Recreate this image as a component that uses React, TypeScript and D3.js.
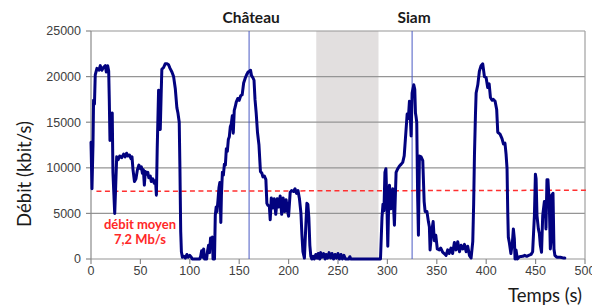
import React from 'react';
import * as d3 from 'd3';

// Débit mesuré (kbit/s) en fonction du temps (s)
const temps = [
  0, 1, 2, 2.6, 3.5, 4.3, 6, 8, 9.4, 11, 12.5, 14.5, 15.5, 16.9, 17.9, 18.5, 19.2, 20.3, 21.5, 22.2, 23, 24, 25, 26,
  27.5, 29, 31, 33, 34.5, 36, 37.5, 39, 40.5, 41.5, 42.5, 44, 45.5, 47, 48.5, 50, 51, 52, 53, 54, 55, 56.5, 57.5, 58.5,
  60, 61, 62.5, 64, 65.3, 66.2, 67, 68.4, 69.3, 70.1, 71, 71.7, 73.5, 75.1, 77, 78.5, 80, 81.9, 83.6, 85.3, 86.9, 88,
  89.3, 90, 90.8, 91.5, 92.5, 94, 95.5, 97, 98.5, 100, 101.5, 102.5, 104, 110, 111, 112, 113, 114, 115, 117, 118, 119,
  120, 121, 122, 123, 123.5, 125, 125.8, 126.7, 127.5, 128.5, 129.5, 130.4, 131.4, 132, 133, 134, 135, 136, 137, 138,
  139, 140, 141, 142, 143, 144, 145, 146, 147, 148.5, 150, 151.5, 153, 154.5, 156, 157.5, 159, 160.4, 161.5, 162.5,
  163.8, 165, 166, 167.2, 168.5, 170, 171.5, 173, 174, 175.5, 177, 178, 179, 180.5, 181.4, 182.5, 184, 185.5, 187,
  188.5, 190, 191.5, 193, 194.5, 196, 197.5, 199, 200, 201.6, 203, 205, 206.5, 208, 209.5, 211, 212.5, 213.5, 214.5,
  216, 217.5, 218.5, 219.5, 220.5, 221.5, 222.5, 223.5, 225, 226, 227.5, 229, 230, 231.5, 232.5, 234, 235.5, 237, 238,
  239.5, 241, 242.5, 244, 245.5, 247, 248.5, 250, 251.5, 253, 254.5, 256, 257.5, 261, 262, 263, 293, 294.5, 295.5,
  296.5, 297.5, 298.5, 299.5, 300.4, 301.2, 302.1, 303.5, 305.4, 307.1, 308.8, 310.5, 312.2, 314, 315.5, 317, 318.9,
  320, 321.2, 322.3, 323.2, 324, 325, 326.7, 327.7, 328.4, 329, 329.7, 330.6, 331.4, 332.4, 334.1, 335.8, 337.2, 338.2,
  340, 341.5, 342.5, 343.2, 344.8, 346.3, 347.5, 349, 350.5, 352.5, 354, 355.9, 357.5, 359.4, 361, 362.5, 364.4, 366,
  367.8, 369.5, 371.2, 373, 374.6, 376.3, 378, 379.7, 381.3, 383, 384.7, 386.4, 387.3, 388.1, 389.1, 389.8, 391.5,
  393.1, 394.8, 396.5, 398.2, 399.9, 401.5, 403, 404.3, 406, 407.3, 409, 410.6, 411.7, 414, 416, 417.5, 419, 420.1,
  421.1, 421.8, 422.4, 423.4, 425, 426.5, 427.5, 428.5, 429.2, 430.2, 431.5, 433.6, 437, 439, 441, 443, 445.4, 447,
  448.8, 449.8, 450.5, 451.4, 452.8, 453.8, 454.8, 456, 457.2, 458.9, 459.8, 460.5, 461.5, 462.5, 463.9, 464.9, 466,
  466.3, 467.6, 468.6, 469.5, 471.4, 475, 478.6, 479.6,
];

const debit = [
  12800, 7700, 12500, 17400, 17000, 20200, 20900, 20700, 21200, 20700, 21000, 21200, 20500, 21200, 20600, 17500, 13000,
  14500, 16000, 9500, 7500, 5000, 8000, 11200, 10900, 11300, 11100, 11500, 11200, 11600, 11300, 11400, 11000, 11200,
  9800, 8500, 8800, 9800, 10300, 9900, 10100, 9400, 9800, 8100, 9600, 9300, 9500, 8900, 9100, 8500, 8800, 8300, 8600,
  7000, 12000, 18500, 17800, 14200, 18000, 20800, 21000, 21400, 21400, 21300, 20900, 20500, 20000, 18700, 16600, 16000,
  15000, 10000, 3000, 800, 200, 300, 100, 500, 200, 400, 200, 0, 0, 0, 300, 900, 200, 1100, 0, 0, 900, 1500, 700, 2300,
  1800, 2400, 0, 0, 4800, 5700, 5200, 6400, 7800, 8400, 4000, 7000, 9500, 9200, 10400, 10300, 12100, 11800, 13100,
  13400, 14500, 14800, 15700, 13800, 16300, 16700, 17200, 17600, 17400, 17900, 18000, 19300, 19800, 20200, 20500,
  20600, 20700, 20100, 19900, 19600, 17500, 16000, 13900, 12500, 9600, 9400, 9000, 9100, 8700, 6100, 5900, 5800, 4300,
  6700, 5600, 6600, 4900, 6600, 5700, 6900, 4900, 6700, 5200, 6500, 5200, 4700, 7300, 7500, 7400, 7700, 7200, 7500,
  6600, 5000, 2600, 800, 100, 3800, 6100, 6000, 4500, 1500, 300, 0, 300, 0, 500, 100, 600, 0, 700, 200, 600, 0, 500,
  100, 700, 100, 600, 0, 500, 100, 600, 0, 500, 0, 400, 0, 0, 250, 0, 0, 4500, 6000, 5300, 9500, 9900, 6000, 1400, 5500,
  8100, 5500, 7700, 3700, 9500, 9900, 10200, 10400, 10600, 11300, 14200, 15900, 15400, 17300, 15700, 13500, 18200,
  19100, 18600, 16000, 15600, 15000, 6900, 2600, 11300, 11200, 10800, 6300, 5200, 5200, 4100, 3500, 1000, 3000, 4100,
  2000, 2600, 1100, 1000, 1200, 750, 600, 400, 1000, 600, 1200, 600, 1800, 1000, 1900, 800, 1500, 1100, 1600, 800,
  1400, 400, 100, 1900, 6000, 11300, 15700, 18200, 19100, 20600, 21200, 21400, 20000, 19900, 18800, 19200, 17700,
  17400, 17500, 17300, 16400, 13900, 13700, 13200, 12600, 12700, 11500, 9900, 5200, 2400, 1800, 600, 1800, 3300, 2200,
  0, 1000, 0, 250, 300, 400, 300, 400, 500, 800, 4750, 9300, 8800, 4750, 3300, 2800, 1500, 750, 4750, 6300, 6300, 3300,
  8700, 8700, 5900, 1100, 2500, 7000, 7200, 1100, 400, 200, 200, 100, 100,
];

const yTicks = [0, 5000, 10000, 15000, 20000, 25000];
const xTicks = [0, 50, 100, 150, 200, 250, 300, 350, 400, 450, 500];

const lieux = ['Château', 'Siam'];
const lieuxTemps = [160, 325];

const zoneGrise = [228, 291];

// débit moyen (ligne pointillée)
const moyenneTemps = [5.5, 503];
const moyenneDebit = [7420, 7540];

const W = 592;
const H = 307;
const margin = { left: 91, right: 7, top: 31, bottom: 48 };

const App: React.FC = () => {
  const x = d3.scaleLinear().domain([0, 500]).range([margin.left, W - margin.right]);
  const y = d3.scaleLinear().domain([0, 25000]).range([H - margin.bottom, margin.top]);

  const pts: [number, number][] = temps.map((t, i) => [t, debit[i]]);
  const line = d3
    .line<[number, number]>()
    .x((d) => x(d[0]))
    .y((d) => y(d[1]));

  const x0 = x(0);
  const x1 = x(500);
  const y0 = y(0);
  const y1 = y(25000);
  const tickFont = "'Liberation Sans', Arial, sans-serif";
  const titleFont = "Lato, 'Open Sans', sans-serif";

  return (
    <svg
      width={W}
      height={H}
      style={{ position: 'absolute', left: 0, top: 0, background: '#fff' }}
    >
      {/* zone grisée */}
      <rect
        x={x(zoneGrise[0])}
        y={y1}
        width={x(zoneGrise[1]) - x(zoneGrise[0])}
        height={y0 - y1}
        fill="#e2dfdf"
      />

      {/* grille */}
      {yTicks.map((v) => (
        <line key={`g${v}`} x1={x0} x2={x1} y1={y(v)} y2={y(v)} stroke="#959595" strokeWidth={1.2} />
      ))}
      <line x1={x1} x2={x1} y1={y1} y2={y0} stroke="#a0a0a0" strokeWidth={1.2} />
      <line x1={x0} x2={x0} y1={y1} y2={y0} stroke="#8a8a8a" strokeWidth={1.2} />

      {/* ticks */}
      {yTicks.map((v) => (
        <g key={`y${v}`}>
          <line x1={x0 - 5} x2={x0} y1={y(v)} y2={y(v)} stroke="#8a8a8a" strokeWidth={1.2} />
          <text
            x={x0 - 10}
            y={y(v)}
            dy="0.35em"
            textAnchor="end"
            fontSize={12.5}
            fontFamily={tickFont}
            fill="#404040"
          >
            {v}
          </text>
        </g>
      ))}
      {xTicks.map((t) => (
        <g key={`x${t}`}>
          <line x1={x(t)} x2={x(t)} y1={y0} y2={y0 + 5} stroke="#8a8a8a" strokeWidth={1.2} />
          <text
            x={x(t)}
            y={y0 + 16}
            textAnchor="middle"
            fontSize={12.5}
            fontFamily={tickFont}
            fill="#404040"
          >
            {t}
          </text>
        </g>
      ))}

      {/* repères Château / Siam */}
      {lieux.map((nom, i) => (
        <g key={nom}>
          <line
            x1={x(lieuxTemps[i])}
            x2={x(lieuxTemps[i])}
            y1={y1}
            y2={y0}
            stroke="#4b5bc4"
            strokeWidth={1}
          />
          <text
            x={x(lieuxTemps[i]) + 2}
            y={23}
            textAnchor="middle"
            fontSize={15.5}
            fontWeight="bold"
            fontFamily={titleFont}
            fill="#1a1a1a"
          >
            {nom}
          </text>
        </g>
      ))}

      {/* débit moyen */}
      <line
        x1={x(moyenneTemps[0])}
        x2={x(moyenneTemps[1])}
        y1={y(moyenneDebit[0])}
        y2={y(moyenneDebit[1])}
        stroke="#ff3030"
        strokeWidth={1.5}
        strokeDasharray="5,3.5"
      />

      {/* série */}
      <path
        d={line(pts) ?? ''}
        fill="none"
        stroke="#02027f"
        strokeWidth={3}
        strokeLinejoin="round"
        strokeLinecap="round"
      />

      {/* annotation */}
      <text
        x={140}
        y={229}
        textAnchor="middle"
        fontSize={13}
        fontWeight="bold"
        fontFamily={titleFont}
        fill="#ff2828"
      >
        débit moyen
      </text>
      <text
        x={140}
        y={244}
        textAnchor="middle"
        fontSize={13}
        fontWeight="bold"
        fontFamily={titleFont}
        fill="#ff2828"
      >
        7,2 Mb/s
      </text>

      {/* titres d'axes */}
      <text
        transform={`translate(31, 174) rotate(-90)`}
        textAnchor="middle"
        fontSize={18.5}
        fontFamily={titleFont}
        fill="#1a1a1a"
      >
        Débit (kbit/s)
      </text>
      <text
        x={582}
        y={302}
        textAnchor="end"
        fontSize={18.5}
        fontFamily={titleFont}
        fill="#1a1a1a"
      >
        Temps (s)
      </text>
    </svg>
  );
};

export default App;
